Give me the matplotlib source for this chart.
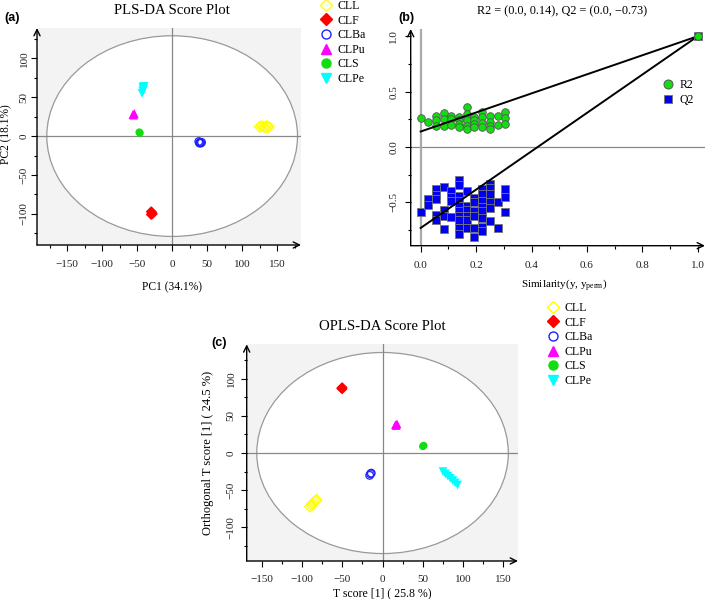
import matplotlib
matplotlib.use("Agg")
import matplotlib.pyplot as plt
from matplotlib.patches import Ellipse
from matplotlib.lines import Line2D
from matplotlib.ticker import MultipleLocator

plt.rcParams["font.family"] = ["Liberation Serif", "DejaVu Serif"]
plt.rcParams["axes.unicode_minus"] = True

# ── Groups / styles ───────────────────────────────────────────────────────────
groups = ["CLL", "CLF", "CLBa", "CLPu", "CLS", "CLPe"]
colors = ["#ffff00", "#ff0000", "#2020ff", "#ff00ff", "#11dd11", "#00ffff"]
markers = ["D", "D", "o", "^", "o", "v"]
filled = [False, True, False, True, True, True]

# ── (a) PLS-DA scores ─────────────────────────────────────────────────────────
pls_x = {
    "CLL":  [125, 128, 131, 133, 135, 137, 138],
    "CLF":  [-30, -29, -28, -30, -29],
    "CLBa": [38, 40, 41, 39, 42],
    "CLPu": [-55, -54, -56],
    "CLS":  [-47, -46],
    "CLPe": [-43, -42, -41, -40, -42, -41],
}
pls_y = {
    "CLL":  [12, 13, 12, 11, 13, 12, 12],
    "CLF":  [-97, -99, -100, -101, -98],
    "CLBa": [-7, -8, -9, -9, -8],
    "CLPu": [27, 29, 28],
    "CLS":  [5, 4],
    "CLPe": [55, 58, 61, 64, 63, 60],
}
pls_ellipse = (179, 129)   # semi-axes of T2 ellipse

# ── (c) OPLS-DA scores ────────────────────────────────────────────────────────
opls_x = {
    "CLL":  [-90, -88, -87, -85, -83, -82],
    "CLF":  [-51, -50, -50],
    "CLBa": [-15, -16, -14],
    "CLPu": [16, 17, 18],
    "CLS":  [50, 51],
    "CLPe": [75, 78, 81, 84, 87, 90, 93],
}
opls_y = {
    "CLL":  [-72, -70, -68, -66, -64, -63],
    "CLF":  [87, 88, 86],
    "CLBa": [-28, -30, -27],
    "CLPu": [38, 37, 39],
    "CLS":  [9, 10],
    "CLPe": [-25, -28, -31, -34, -37, -40, -43],
}
opls_ellipse = (156, 135)

# ── (b) permutation test ──────────────────────────────────────────────────────
r2_x = [0.0, 0.028, 0.056, 0.056, 0.056, 0.083, 0.083, 0.083,
        0.111, 0.111, 0.111, 0.139, 0.139, 0.139, 0.139,
        0.167, 0.167, 0.167, 0.167, 0.167, 0.194, 0.194, 0.194, 0.194,
        0.222, 0.222, 0.222, 0.222, 0.25, 0.25, 0.25, 0.25,
        0.278, 0.278, 0.306, 0.306, 0.306]
r2_y = [0.26, 0.225, 0.28, 0.24, 0.19, 0.31, 0.25, 0.19,
        0.28, 0.25, 0.20, 0.27, 0.24, 0.21, 0.18,
        0.36, 0.30, 0.24, 0.19, 0.16, 0.27, 0.24, 0.21, 0.18,
        0.32, 0.27, 0.22, 0.18, 0.28, 0.23, 0.19, 0.16,
        0.28, 0.20, 0.32, 0.26, 0.21]
q2_x = [0.0, 0.028, 0.028,
        0.056, 0.056, 0.056, 0.056, 0.056,
        0.083, 0.083, 0.083, 0.083,
        0.111, 0.111, 0.111, 0.111,
        0.139, 0.139, 0.139, 0.139, 0.139, 0.139, 0.139, 0.139, 0.139, 0.139,
        0.167, 0.167, 0.167, 0.167, 0.167, 0.167,
        0.194, 0.194, 0.194, 0.194, 0.194, 0.194,
        0.222, 0.222, 0.222, 0.222, 0.222, 0.222, 0.222, 0.222,
        0.25, 0.25, 0.25, 0.25, 0.25, 0.25,
        0.278, 0.278, 0.306, 0.306, 0.306]
q2_y = [-0.59, -0.47, -0.52,
        -0.38, -0.43, -0.47, -0.61, -0.66,
        -0.36, -0.57, -0.62, -0.74,
        -0.40, -0.45, -0.49, -0.63,
        -0.30, -0.34, -0.44, -0.49, -0.53, -0.58, -0.62, -0.66, -0.73, -0.78,
        -0.40, -0.53, -0.57, -0.62, -0.66, -0.73,
        -0.46, -0.50, -0.58, -0.62, -0.73, -0.81,
        -0.38, -0.42, -0.49, -0.54, -0.58, -0.64, -0.72, -0.76,
        -0.33, -0.37, -0.42, -0.50, -0.55, -0.67,
        -0.50, -0.73, -0.38, -0.45, -0.59]
orig_point = (1.0, 1.0)
r2_intercept = 0.14
q2_intercept = -0.73


# ── Helpers ───────────────────────────────────────────────────────────────────

def arrow_axes(ax):
    for s in ax.spines.values():
        s.set_visible(False)
    kw = dict(xycoords="axes fraction", textcoords="axes fraction",
              annotation_clip=False,
              arrowprops=dict(arrowstyle="->,head_length=0.45,head_width=0.22",
                              lw=1.0, color="black", shrinkA=0, shrinkB=0))
    ax.annotate("", xy=(1.0, 0), xytext=(0, 0), **kw)
    ax.annotate("", xy=(0, 1.0), xytext=(0, 0), **kw)


def style_ticks(ax, xpad, ypad):
    ax.tick_params(which="major", direction="out", length=4, width=0.8,
                   labelsize=8, colors="black")
    ax.tick_params(which="minor", direction="out", length=2.5, width=0.8)
    ax.tick_params(axis="x", pad=xpad)
    ax.tick_params(axis="y", pad=ypad)
    for lab in ax.get_yticklabels():
        lab.set_rotation(90)
        lab.set_va("center")
    for lab in ax.get_xticklabels() + ax.get_yticklabels():
        lab.set_color("#222222")


def score_plot(ax, xs, ys, semi):
    ax.set_facecolor("#f3f3f3")
    ax.add_patch(Ellipse((0, 0), 2 * semi[0], 2 * semi[1], fc="white",
                         ec="#999999", lw=0.9, zorder=0.5))
    ax.axhline(0, color="#888888", lw=0.9, zorder=1)
    ax.axvline(0, color="#888888", lw=0.9, zorder=1)
    for g, c, m, f in zip(groups, colors, markers, filled):
        size = 40 if m in "^v" else 30
        if f:
            ax.scatter(xs[g], ys[g], s=size, marker=m, c=c, edgecolors="none",
                       zorder=3)
        else:
            ax.scatter(xs[g], ys[g], s=size, marker=m, facecolors="none",
                       edgecolors=c, linewidths=0.9, zorder=3)
    ax.xaxis.set_major_locator(MultipleLocator(50))
    ax.xaxis.set_minor_locator(MultipleLocator(25))
    ax.yaxis.set_major_locator(MultipleLocator(50))
    ax.yaxis.set_minor_locator(MultipleLocator(25))
    arrow_axes(ax)


def group_handles():
    hs = []
    for c, m, f in zip(colors, markers, filled):
        hs.append(Line2D([], [], ls="none", marker=m, ms=7.5 if m in "^v" else 6.5,
                         mfc=c if f else "none", mec=c, mew=1.0))
    return hs


fig = plt.figure(figsize=(7.09, 5.99), dpi=100)
W, H = 709, 599


def px_axes(left, top, right, bottom):
    return fig.add_axes([left / W, 1 - bottom / H, (right - left) / W,
                         (bottom - top) / H])


legend_kw = dict(loc="upper left", frameon=False, fontsize=8.5,
                 handlelength=1.0, handletextpad=0.5, labelspacing=0.22,
                 borderpad=0, borderaxespad=0)

# ── (a) ───────────────────────────────────────────────────────────────────────
ax_a = px_axes(37, 28, 301, 245)
score_plot(ax_a, pls_x, pls_y, pls_ellipse)
ax_a.set_xlim(-193, 184)
ax_a.set_ylim(-140, 139)
ax_a.set_xticks([-150, -100, -50, 0, 50, 100, 150])
ax_a.set_yticks([-100, -50, 0, 50, 100])
style_ticks(ax_a, xpad=7, ypad=2)
ax_a.set_xlabel("PC1 (34.1%)", fontsize=8.3)
ax_a.set_ylabel("PC2 (18.1%)", fontsize=8.3)
ax_a.xaxis.set_label_coords(0.513, -0.193)
ax_a.yaxis.set_label_coords(-0.115, 0.51)
ax_a.xaxis.label.set_va("center")
ax_a.yaxis.label.set_va("center")
fig.text(172 / W, 1 - 11 / H, "PLS-DA Score Plot", fontsize=10.6,
         ha="center", va="center")
fig.text(4 / W, 1 - 18 / H, "(a)", fontsize=9, fontweight="bold",
         family="Liberation Sans", ha="left", va="center")
fig.legend(group_handles(), groups, bbox_to_anchor=(320 / W, 1 - 0 / H),
           **legend_kw)

# ── (b) ───────────────────────────────────────────────────────────────────────
ax_b = px_axes(410.7, 29, 705, 245.7)
ax_b.axhline(0, color="#888888", lw=0.9, zorder=1)
ax_b.axvline(0, color="#aaaaaa", lw=1.6, zorder=1)
ax_b.scatter(r2_x, r2_y, s=30, marker="o", c="#11dd11", edgecolors="#555555",
             linewidths=0.6, zorder=3)
ax_b.scatter(q2_x, q2_y, s=28, marker="s", c="#0000ee", edgecolors="#777777",
             linewidths=0.6, zorder=3)
ax_b.plot([0, orig_point[0]], [r2_intercept, orig_point[1]], color="black",
          lw=1.4, zorder=4)
ax_b.plot([0, orig_point[0]], [q2_intercept, orig_point[1]], color="black",
          lw=1.4, zorder=4)
ax_b.scatter([orig_point[0]], [orig_point[1]], s=30, marker="s", c="#0000ee",
             edgecolors="#777777", linewidths=0.6, zorder=4)
ax_b.scatter([orig_point[0]], [orig_point[1]], s=30, marker="o", c="#11dd11",
             edgecolors="#555555", linewidths=0.6, zorder=5)
ax_b.set_xlim(-0.036, 1.026)
ax_b.set_ylim(-0.89, 1.065)
ax_b.set_xticks([0.0, 0.2, 0.4, 0.6, 0.8, 1.0])
ax_b.xaxis.set_minor_locator(MultipleLocator(0.1))
ax_b.set_yticks([-0.5, 0.0, 0.5, 1.0])
ax_b.yaxis.set_minor_locator(MultipleLocator(0.25))
ax_b.set_xticklabels(["0.0", "0.2", "0.4", "0.6", "0.8", "1.0"])
ax_b.set_yticklabels(["\u22120.5", "0.0", "0.5", "1.0"])
arrow_axes(ax_b)
style_ticks(ax_b, xpad=7, ypad=5)
ax_b.set_xlabel("Similarity(y, y$_{\\mathregular{perm}}$)", fontsize=8)
ax_b.xaxis.set_label_coords(0.521, -0.186)
ax_b.xaxis.label.set_va("center")
fig.text(562 / W, 1 - 11 / H, "R2 = (0.0, 0.14), Q2 = (0.0, \u22120.73)",
         fontsize=8.8, ha="center", va="center")
fig.text(398 / W, 1 - 18 / H, "(b)", fontsize=9, fontweight="bold",
         family="Liberation Sans", ha="left", va="center")
hb = [Line2D([], [], ls="none", marker="o", ms=6.5, mfc="#11dd11",
             mec="#555555", mew=0.7),
      Line2D([], [], ls="none", marker="s", ms=5.5, mfc="#0000ee",
             mec="#777777", mew=0.7)]
fig.legend(hb, ["R2", "Q2"], bbox_to_anchor=(662 / W, 1 - 79 / H),
           **dict(legend_kw, labelspacing=0.25))

# ── (c) ───────────────────────────────────────────────────────────────────────
ax_c = px_axes(246.7, 344.3, 518, 561)
score_plot(ax_c, opls_x, opls_y, opls_ellipse)
ax_c.set_xlim(-168.5, 168)
ax_c.set_ylim(-145, 146)
ax_c.set_xticks([-150, -100, -50, 0, 50, 100, 150])
ax_c.set_yticks([-100, -50, 0, 50, 100])
style_ticks(ax_c, xpad=6, ypad=4)
ax_c.set_xlabel("T score [1] ( 25.8 %)", fontsize=8.5)
ax_c.set_ylabel("Orthogonal T score [1] ( 24.5 %)", fontsize=9)
ax_c.xaxis.set_label_coords(0.499, -0.148)
ax_c.yaxis.set_label_coords(-0.143, 0.498)
ax_c.xaxis.label.set_va("center")
ax_c.yaxis.label.set_va("center")
fig.text(382 / W, 1 - 326 / H, "OPLS-DA Score Plot", fontsize=10.6,
         ha="center", va="center")
fig.text(211 / W, 1 - 343 / H, "(c)", fontsize=9, fontweight="bold",
         family="Liberation Sans", ha="left", va="center")
fig.legend(group_handles(), groups, bbox_to_anchor=(547 / W, 1 - 302 / H),
           **legend_kw)

fig.savefig("out.png", dpi=100)
plt.close(fig)
